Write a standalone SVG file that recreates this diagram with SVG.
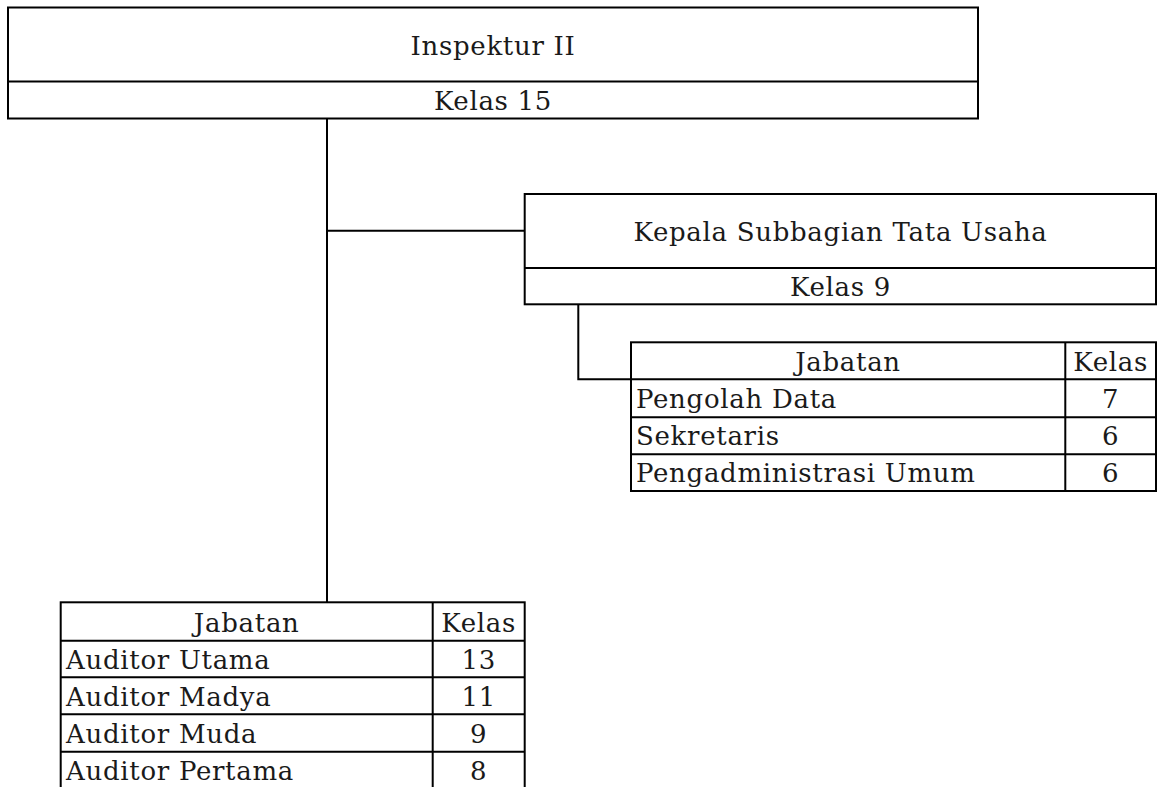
<svg xmlns="http://www.w3.org/2000/svg" width="1157" height="787" viewBox="0 0 1157 787">
<style>
.box{fill:#fff;stroke:#000;stroke-width:2}
.ln{fill:none;stroke:#000;stroke-width:2}
text{font-family:"DejaVu Serif","Liberation Serif",serif;font-size:26px;letter-spacing:0.7px;fill:#1a1a1a}
.c{text-anchor:middle}
</style>
<rect width="1157" height="787" fill="#fff"/>
<g id="connectors">
<path class="ln" d="M327,118.5 V602.3"/>
<path class="ln" d="M327,230.7 H524.7"/>
<path class="ln" d="M578.3,304.3 V379.3 H631"/>
</g>
<g id="inspektur">
<rect class="box" x="8" y="7.5" width="970" height="111"/>
<path class="ln" d="M8,81.5 H978"/>
<text class="c" x="493" y="55">Inspektur II</text>
<text class="c" x="493" y="110">Kelas 15</text>
</g>
<g id="kasubbag">
<rect class="box" x="524.7" y="194" width="631.3" height="110.3"/>
<path class="ln" d="M524.7,268 H1156"/>
<text class="c" x="840.5" y="241">Kepala Subbagian Tata Usaha</text>
<text class="c" x="840.5" y="296">Kelas 9</text>
</g>
<g id="tabel-tu">
<rect class="box" x="631" y="342.3" width="525" height="148.7"/>
<path class="ln" d="M631,379.3 H1156 M631,417.3 H1156 M631,454.3 H1156 M1065.3,342.3 V491"/>
<text class="c" x="848" y="371">Jabatan</text>
<text class="c" x="1110.7" y="371">Kelas</text>
<text x="636" y="408">Pengolah Data</text>
<text class="c" x="1110.7" y="408">7</text>
<text x="636" y="445">Sekretaris</text>
<text class="c" x="1110.7" y="445">6</text>
<text x="636" y="482">Pengadministrasi Umum</text>
<text class="c" x="1110.7" y="482">6</text>
</g>
<g id="tabel-auditor">
<rect class="box" x="60.7" y="602.3" width="464" height="190"/>
<path class="ln" d="M60.7,640.7 H524.7 M60.7,677.3 H524.7 M60.7,714.3 H524.7 M60.7,751.7 H524.7 M432.7,602.3 V792"/>
<text class="c" x="246.7" y="632">Jabatan</text>
<text class="c" x="478.7" y="632">Kelas</text>
<text x="66" y="669">Auditor Utama</text>
<text class="c" x="478.7" y="669">13</text>
<text x="66" y="706">Auditor Madya</text>
<text class="c" x="478.7" y="706">11</text>
<text x="66" y="743">Auditor Muda</text>
<text class="c" x="478.7" y="743">9</text>
<text x="66" y="780">Auditor Pertama</text>
<text class="c" x="478.7" y="780">8</text>
</g>
</svg>
